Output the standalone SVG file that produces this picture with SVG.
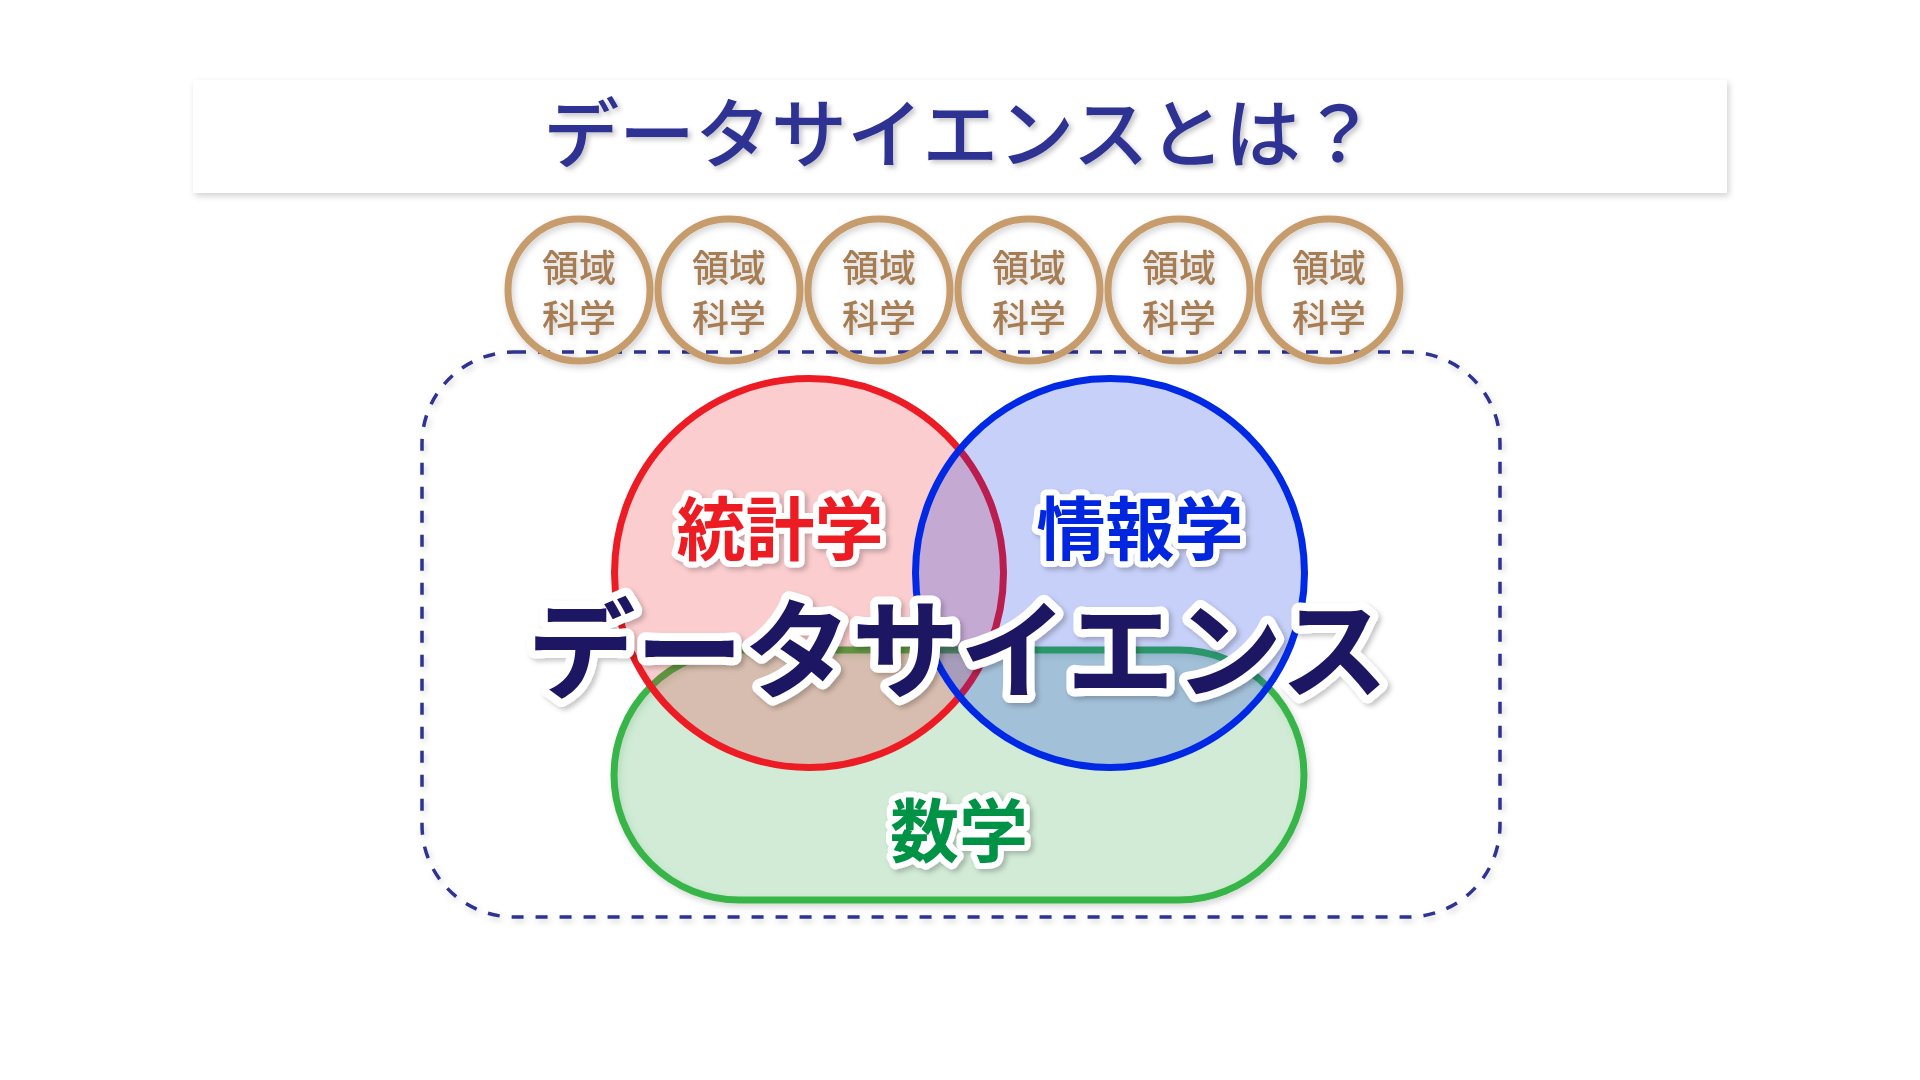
<svg xmlns="http://www.w3.org/2000/svg" width="1920" height="1080" viewBox="0 0 1920 1080">
<defs>
<filter id="sh" x="-10%" y="-10%" width="130%" height="130%">
<feDropShadow dx="3" dy="3" stdDeviation="2.5" flood-color="#000" flood-opacity="0.22"/>
</filter>
<filter id="shs" x="-10%" y="-10%" width="130%" height="130%">
<feDropShadow dx="2" dy="3" stdDeviation="3" flood-color="#000" flood-opacity="0.18"/>
</filter>
</defs>
<style>
text{font-family:"Noto Sans CJK JP","Noto Sans CJK SC",sans-serif;text-anchor:middle}
.title{font-size:76px;font-weight:500;fill:#2e3192}
.dom{fill:none;stroke:#c69c6d;stroke-width:7}
.domt{font-size:37px;font-weight:500;fill:#a67c52}
.lbl{font-size:69px;font-weight:700;paint-order:stroke;stroke:#fff;stroke-width:12;stroke-linejoin:round}
.big{font-size:108px;font-weight:700;fill:#1b1464;paint-order:stroke;stroke:#fff;stroke-width:16;stroke-linejoin:round}
</style>
<rect width="1920" height="1080" fill="#fff"/>
<g id="title">
<rect x="193" y="80" width="1534" height="113" fill="#fff" filter="url(#shs)"/>
<text class="title" x="960" y="162" filter="url(#sh)">データサイエンスとは？</text>
</g>
<g id="datascience-boundary">
<rect x="422" y="352" width="1078" height="565" rx="92" ry="92" fill="none" stroke="#2e3192" stroke-width="3.5" stroke-dasharray="12 12" filter="url(#shs)"/>
</g>
<g id="domains" filter="url(#shs)">
<g id="domain1"><circle class="dom" cx="579" cy="290" r="71"/><text class="domt" x="579" y="282">領域</text><text class="domt" x="579" y="332">科学</text></g>
<g id="domain2"><circle class="dom" cx="729" cy="290" r="71"/><text class="domt" x="729" y="282">領域</text><text class="domt" x="729" y="332">科学</text></g>
<g id="domain3"><circle class="dom" cx="879" cy="290" r="71"/><text class="domt" x="879" y="282">領域</text><text class="domt" x="879" y="332">科学</text></g>
<g id="domain4"><circle class="dom" cx="1029" cy="290" r="71"/><text class="domt" x="1029" y="282">領域</text><text class="domt" x="1029" y="332">科学</text></g>
<g id="domain5"><circle class="dom" cx="1179" cy="290" r="71"/><text class="domt" x="1179" y="282">領域</text><text class="domt" x="1179" y="332">科学</text></g>
<g id="domain6"><circle class="dom" cx="1329" cy="290" r="71"/><text class="domt" x="1329" y="282">領域</text><text class="domt" x="1329" y="332">科学</text></g>
</g>
<g id="math">
<rect x="614" y="650" width="690" height="250" rx="125" ry="125" fill="#39b54a" fill-opacity="0.2" stroke="#39b54a" stroke-width="7" filter="url(#shs)"/>
</g>
<g id="statistics">
<circle cx="809" cy="573" r="194.5" fill="#ed1c24" fill-opacity="0.22" stroke="#ed1c24" stroke-width="7"/>
</g>
<g id="informatics">
<circle cx="1110" cy="573" r="194.5" fill="#0029e5" fill-opacity="0.22" stroke="#0029e5" stroke-width="7"/>
</g>
<g id="labels" filter="url(#sh)">
<text class="lbl" x="780" y="555" fill="#ed1c24">統計学</text>
<text class="lbl" x="1140" y="555" fill="#0028e0">情報学</text>
<text class="lbl" x="959" y="857" fill="#009245">数学</text>
<text class="big" x="958" y="690">データサイエンス</text>
</g>
<g id="connectors"/>
</svg>
